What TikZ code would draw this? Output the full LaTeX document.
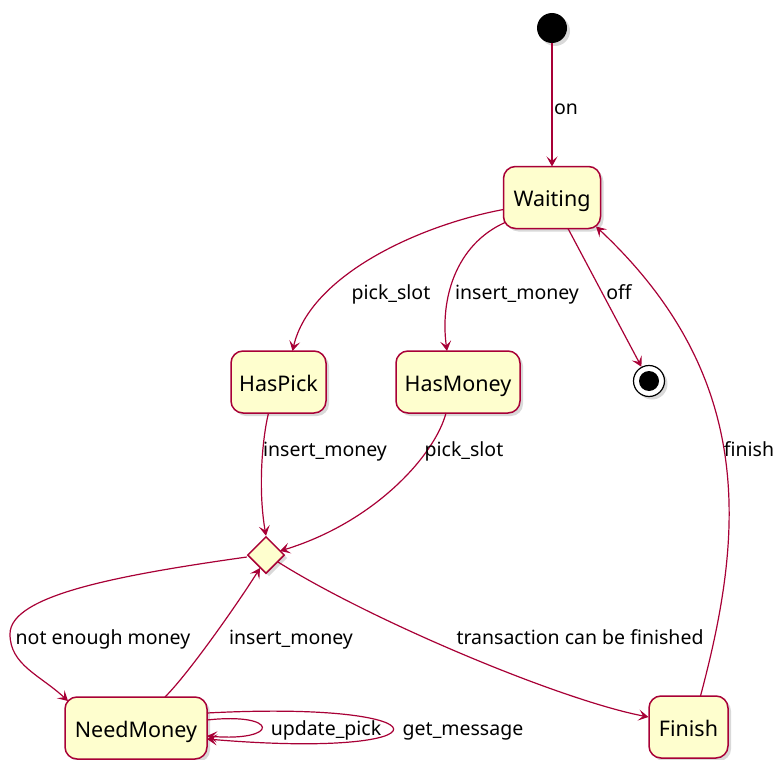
\documentclass[tikz,border=0pt]{standalone}
\usepackage{fontspec}
\setmainfont{Noto Sans}
\usetikzlibrary{arrows.meta,shapes.geometric,shadows}
\definecolor{umlred}{HTML}{A80036}
\definecolor{umlfill}{HTML}{FEFECE}

\begin{document}
\begin{tikzpicture}[x=1pt,y=-1pt]
\useasboundingbox (0,0) rectangle (774,760);

\tikzset{StateStyle/.style = {
 shape = rectangle,
 rounded corners = 12pt,
 draw = umlred,
 fill = umlfill,
 line width = 1.5pt,
 text = black,
 font = \fontsize{21.5}{25}\selectfont,
 text height = 22pt,
 text depth = 4pt,
 inner sep = 0pt,
 outer sep = 0pt,
 minimum height = 62pt,
 drop shadow = {shadow xshift=3pt, shadow yshift=-3pt, opacity=0.3}} }

\node[StateStyle, minimum width=97pt] (Wait) at (552,197.5) {Waiting};
\node[StateStyle, minimum width=95pt] (HasPick) at (278.5,382) {HasPick};
\node[StateStyle, minimum width=124pt] (HasMoney) at (458,382) {HasMoney};
\node[StateStyle, minimum width=142pt] (Need) at (136,728) {NeedMoney};
\node[StateStyle, minimum width=79pt] (Fin) at (688.5,727) {Finish};

\node[shape=diamond, draw=umlred, fill=umlfill, line width=1.5pt, inner sep=0pt,
 minimum width=37pt, minimum height=37pt,
 drop shadow={shadow xshift=3pt, shadow yshift=-3pt, opacity=0.3}] (Choice) at (266,555) {};
\node[shape=circle, fill=black, inner sep=0pt, minimum size=30pt,
 drop shadow={shadow xshift=3pt, shadow yshift=-3pt, opacity=0.3}] (Init) at (552,28) {};
\node[shape=circle, draw=black, fill=white, line width=1.2pt, inner sep=0pt, minimum size=31pt,
 drop shadow={shadow xshift=3pt, shadow yshift=-3pt, opacity=0.3},
 path picture={\fill[black] (path picture bounding box.center) circle (10pt);}] (Final) at (649,381) {};


\tikzset{EdgeStyle/.style = {draw=umlred, line width=1.2pt,
 -{Stealth[length=10pt, width=11pt, inset=4.5pt]}} }
\tikzset{LabelStyle/.style = {font=\fontsize{19.5}{23}\selectfont, text=black, inner sep=0pt,
 text height=17.5pt, text depth=3.5pt} }

\draw[EdgeStyle] (Init) -- (Wait) node[LabelStyle] at (566,107) {on};
\draw[EdgeStyle] ([yshift=-12pt]Wait.west) .. controls (420,225) and (310,275) .. ([xshift=14pt]HasPick.north) node[LabelStyle] at (391,292) {pick\_slot};
\draw[EdgeStyle] ([shift={(-47,25)}]Wait.center) .. controls (455,245) and (440,300) .. ([xshift=-11pt]HasMoney.north) node[LabelStyle] at (517,292) {insert\_money};
\draw[EdgeStyle] ([xshift=16pt]Wait.south) -- (Final) node[LabelStyle] at (619,292) {off};
\draw[EdgeStyle] ([xshift=12pt]Fin.north) .. controls (742,540) and (760,380) .. ([shift={(44,29)}]Wait.center) node[LabelStyle] at (749,449) {finish};
\draw[EdgeStyle] ([xshift=-10pt]HasPick.south) .. controls (262,440) and (258,490) .. (Choice.north) node[LabelStyle] at (325,449) {insert\_money};
\draw[EdgeStyle] ([xshift=-12pt]HasMoney.south) .. controls (435,455) and (375,522) .. ([shift={(14,-4)}]Choice.center) node[LabelStyle] at (464,449) {pick\_slot};
\draw[EdgeStyle] ([yshift=-2pt]Choice.west) .. controls (120,575) and (10,595) .. (10,634) .. controls (10,665) and (40,675) .. ([shift={(-68,-27)}]Need.center) node[LabelStyle] at (103,637) {not enough money};
\draw[EdgeStyle] ([xshift=29pt]Need.north) .. controls (190,672) and (240,600) .. ([shift={(-6,13)}]Choice.center) node[LabelStyle] at (291,637) {insert\_money};
\draw[EdgeStyle] ([shift={(12,7)}]Choice.center) .. controls (370,620) and (560,700) .. ([shift={(-40,-10)}]Fin.center) node[LabelStyle] at (580,637) {transaction can be finished};
\draw[EdgeStyle] ([yshift=8pt]Need.east) .. controls (280,712) and (280,742) .. ([yshift=-8pt]Need.east) node[LabelStyle] at (326,728) {update\_pick};
\draw[EdgeStyle] ([yshift=15pt]Need.east) .. controls (455,700) and (455,760) .. ([yshift=-11pt]Need.east) node[LabelStyle] at (463,728) {get\_message};

\end{tikzpicture}
\end{document}
